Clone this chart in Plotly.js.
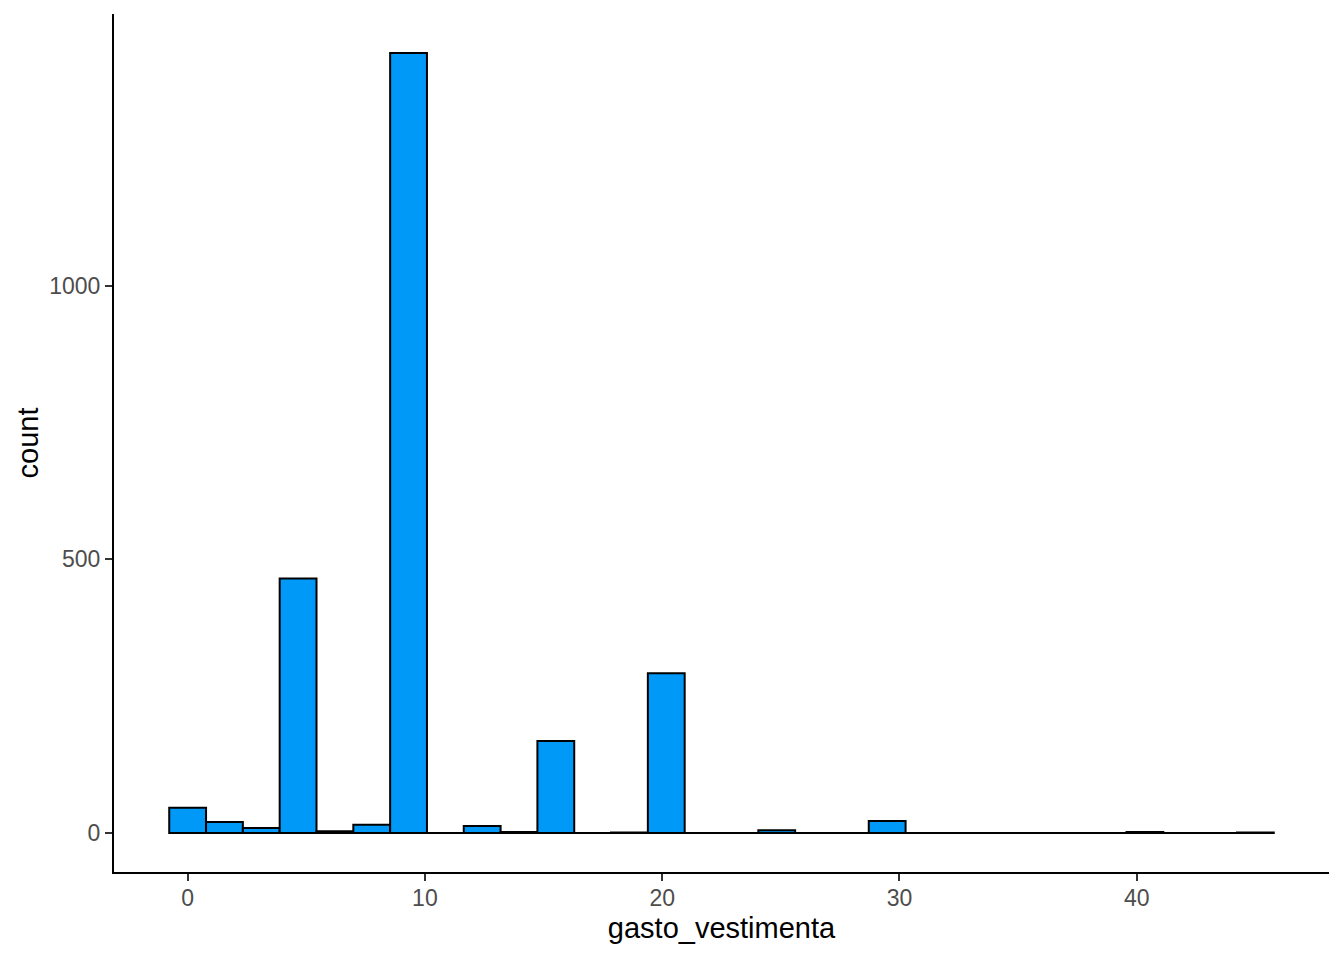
<!DOCTYPE html>
<html>
<head>
<meta charset="utf-8">
<script src="https://cdn.plot.ly/plotly-3.0.1.min.js"></script>
<style>html,body{margin:0;padding:0;background:#fff;}#chart{width:1344px;height:960px;}</style>
</head>
<body>
<div id="chart"></div>
<script>
// histogram of gasto_vestimenta, 30 bins centred from dataMin to dataMax
var dataMin = 0;
var dataMax = 45;
var nBins = 30;
var counts = [46, 20, 9, 465, 3, 15, 1425, 0, 13, 2, 168, 0, 1, 292, 0, 0, 5, 0, 0, 22, 0, 0, 0, 0, 0, 0, 2, 0, 0, 1];
var xTickVals = [0, 10, 20, 30, 40];
var yTickVals = [0, 500, 1000];

var binWidth = (dataMax - dataMin) / (nBins - 1);
var centers = counts.map(function (_, i) { return dataMin + i * binWidth; });
var leftEdge = centers[0] - binWidth / 2;
var rightEdge = centers[centers.length - 1] + binWidth / 2;
var span = rightEdge - leftEdge;
var maxCount = Math.max.apply(null, counts);

var bars = {
  type: 'bar',
  x: centers,
  y: counts,
  width: binWidth,
  marker: { color: '#0099F8', line: { color: '#000000', width: 2 } },
  hoverinfo: 'x+y'
};
var baseline = {
  type: 'scatter',
  mode: 'lines',
  x: [leftEdge, rightEdge],
  y: [0, 0],
  line: { color: '#000000', width: 2 },
  hoverinfo: 'skip'
};

var layout = {
  width: 1344, height: 960,
  paper_bgcolor: '#ffffff', plot_bgcolor: '#ffffff',
  showlegend: false,
  margin: { l: 114, r: 15, t: 14, b: 88 },
  font: { family: 'Liberation Sans, Arial, sans-serif' },
  bargap: 0,
  xaxis: {
    range: [leftEdge - span * 0.05, rightEdge + span * 0.05],
    tickvals: xTickVals,
    ticktext: xTickVals.map(String),
    showgrid: false, zeroline: false,
    showline: true, linecolor: '#000000', linewidth: 2,
    ticks: 'outside', ticklen: 7, tickcolor: '#333333', tickwidth: 2,
    ticklabelstandoff: -3,
    tickfont: { size: 23, color: '#4D4D4D' },
    title: { text: 'gasto_vestimenta', font: { size: 29, color: '#000000' }, standoff: 8 }
  },
  yaxis: {
    range: [-maxCount * 0.05, maxCount * 1.05],
    tickvals: yTickVals,
    ticktext: yTickVals.map(String),
    showgrid: false, zeroline: false,
    showline: true, linecolor: '#000000', linewidth: 2,
    ticks: 'outside', ticklen: 7, tickcolor: '#333333', tickwidth: 2,
    tickfont: { size: 23, color: '#4D4D4D' },
    title: { text: 'count', font: { size: 29, color: '#000000' }, standoff: 2 }
  }
};

Plotly.newPlot('chart', [bars, baseline], layout, { displayModeBar: false, staticPlot: true });
</script>
</body>
</html>
